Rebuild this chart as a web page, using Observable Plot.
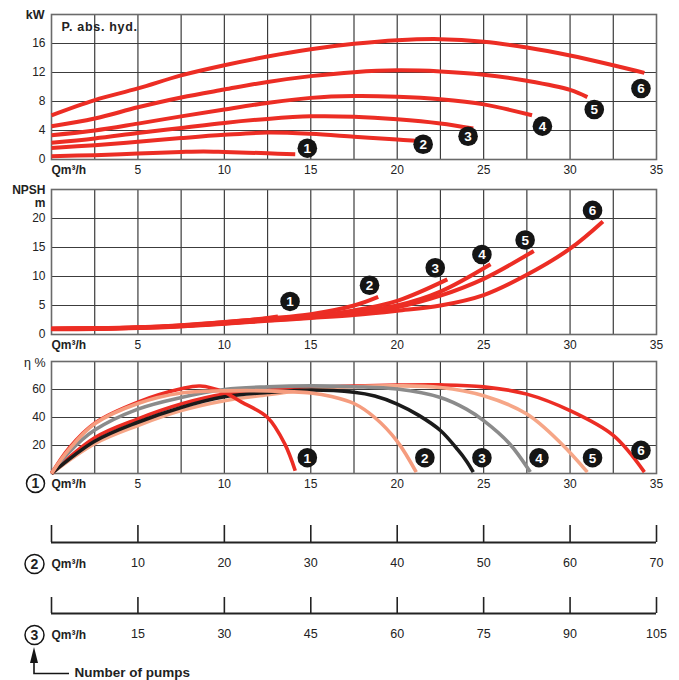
<!DOCTYPE html>
<html><head><meta charset="utf-8">
<script src="https://cdn.jsdelivr.net/npm/d3@7"></script>
<script src="https://cdn.jsdelivr.net/npm/@observablehq/plot@0.6"></script>
<style>
body{margin:0;background:#fff;}
#chart{position:relative;width:679px;height:680px;overflow:hidden;background:#fff;}
#chart svg{position:absolute;left:0;}
</style></head><body><div id="chart"></div>
<script>
// ---- axes / ticks ----
const Q_TICKS = [5, 10, 15, 20, 25, 30, 35];
const Q_GRID = [2.5, 5, 7.5, 10, 12.5, 15, 17.5, 20, 22.5, 25, 27.5, 30, 32.5];
const KW_TICKS = [0, 4, 8, 12, 16];
const KW_GRID = [4, 8, 12, 16];
const NPSH_TICKS = [0, 5, 10, 15, 20];
const NPSH_GRID = [5, 10, 15, 20];
const ETA_TICKS = [20, 40, 60];
const ETA_GRID = [20, 40, 60];
const Q2_TICKS = [0, 10, 20, 30, 40, 50, 60, 70];
const Q3_TICKS = [0, 15, 30, 45, 60, 75, 90, 105];
const PUMP_IDS = ["1", "2", "3", "4", "5", "6"];

// ---- P. abs. hyd. (kW) vs Q (m3/h) ----
const kw1 = [[0,0.46],[2.5,0.6],[5,0.83],[7.5,1.05],[8.8,1.12],[10,1.05],[12.5,0.85],[14.1,0.73]];
const kw2 = [[0,1.6],[2.5,1.97],[5,2.45],[7.5,2.95],[10,3.4],[12.5,3.72],[15,3.55],[17.5,3.15],[20,2.75],[21.1,2.57]];
const kw3 = [[0,2.3],[2.5,2.9],[5,3.65],[7.5,4.35],[10,5.05],[12.5,5.6],[15,5.95],[17.5,5.9],[20,5.55],[22.5,4.97],[24.4,4.27]];
const kw4 = [[0,3.35],[2.5,4.0],[5,4.95],[7.5,5.95],[10,6.9],[12.5,7.8],[15,8.5],[17.5,8.75],[20,8.65],[22.5,8.3],[25,7.6],[27.8,6.1]];
const kw5 = [[0,4.6],[2.5,5.65],[5,7.2],[7.5,8.55],[10,9.65],[12.5,10.7],[15,11.5],[17.5,12.05],[20,12.3],[22.5,12.15],[25,11.7],[27.5,10.85],[30,9.6],[31,8.6]];
const kw6 = [[0,6.1],[2.5,8.2],[5,9.8],[7.5,11.6],[10,13.0],[12.5,14.2],[15,15.2],[17.5,15.95],[20,16.45],[22.5,16.6],[25,16.25],[27.5,15.45],[30,14.35],[32.5,13.0],[34.3,11.95]];
const kwLabels = [[14.8,1.56],[21.5,2.1],[24.1,3.2],[28.4,4.6],[31.4,6.9],[34.1,9.8]];

// ---- NPSH (m) vs Q ----
const n1 = [[0,1.05],[2.5,1.1],[5,1.25],[7.5,1.6],[10,2.15],[12.5,2.85],[13.1,3.1]];
const n2 = [[0,1.0],[2.5,1.05],[5,1.2],[7.5,1.55],[10,2.1],[12.5,2.75],[15,3.5],[17.5,5.0],[18.9,6.5]];
const n3 = [[0,1.0],[2.5,1.05],[5,1.2],[7.5,1.5],[10,2.0],[12.5,2.6],[15,3.2],[17.5,4.15],[20,5.8],[22.9,9.5]];
const n4 = [[0,0.95],[2.5,1.0],[5,1.15],[7.5,1.45],[10,1.95],[12.5,2.5],[15,3.05],[17.5,3.85],[20,5.0],[22.5,7.4],[25.4,12.1]];
const n5 = [[0,0.95],[2.5,1.0],[5,1.15],[7.5,1.45],[10,1.9],[12.5,2.45],[15,2.95],[17.5,3.65],[20,4.7],[22.5,6.7],[25,9.6],[27.9,14.4]];
const n6 = [[0,0.9],[2.5,0.95],[5,1.1],[7.5,1.4],[10,1.85],[12.5,2.35],[15,2.85],[17.5,3.35],[20,4.1],[22.5,5.0],[25,6.8],[27.5,10.3],[30,14.8],[31.9,19.5]];
const npshLabels = [[13.8,5.7],[18.4,8.5],[22.2,11.5],[24.9,13.8],[27.4,16.3],[31.3,21.4]];

// ---- Efficiency (%) vs Q ----
const e1 = [[0,0],[1,18],[2.5,36],[5,51],[7.5,60.5],[8.6,62.5],[10,58],[11,51],[12.5,40],[13.5,21],[14.1,2]];
const e2 = [[0,0],[1,17],[2.5,35.5],[5,50],[7.5,57.5],[10,59],[12.5,59],[15,57.5],[16.2,55],[17.5,50],[18.7,40],[20,23],[21.1,1]];
const e3 = [[0,0],[2.5,23],[5,36.6],[7.5,47.2],[10,54.8],[12.5,57.9],[15,59.6],[17.5,58],[18.7,55.3],[20,49.6],[21.25,41.5],[22.5,30.7],[23.5,17],[24,9],[24.4,1]];
const e4 = [[0,0],[1,15],[2.5,31],[5,46],[7.5,54.3],[10,60],[12.5,61.9],[15,62.6],[17.5,62],[20,60.3],[22.5,54.3],[24,46],[25,37.8],[26.5,21.3],[27.7,1]];
const e5 = [[0,0],[2.5,21.3],[5,34.3],[7.5,44.9],[10,52],[12.5,56.2],[15,60],[17.5,62],[20,62.6],[22.5,61.4],[25,55.5],[27.5,42.5],[29.5,21.3],[31,1]];
const e6 = [[0,0],[2.5,25.5],[5,39],[7.5,49.6],[10,56.7],[12.5,59.6],[15,61.4],[17.5,62.5],[20,63.1],[22.5,63.3],[25,61.9],[27.5,56.7],[30,44.9],[32.5,27.2],[34.3,1]];
const etaLabels = [[14.8,11.3],[21.6,11.3],[24.9,11.3],[28.2,11.3],[31.3,11.3],[34.1,16.5]];

// ---- styling ----
const FONT = '"Liberation Sans", Arial, Helvetica, sans-serif';
const RED = "#ec2d24";
const SALMON = "#f59c7e";
const SALMON2 = "#f6a687";
const GRAY = "#8b8b8b";
const BLACK = "#1b1b1b";
const GRID = "#3c3c3c";

const px = d => d[0], py = d => d[1];

function curves(list, colors, width) {
  return list.map((pts, i) => Plot.line(pts, {x: px, y: py, stroke: colors[i], strokeWidth: width, curve: "catmull-rom", strokeLinecap: "butt"}));
}
function badges(pos) {
  return [
    Plot.dot(pos, {x: px, y: py, r: 9.8, fill: "#151515", stroke: "none"}),
    Plot.text(pos, {x: px, y: py, text: (d, i) => PUMP_IDS[i], fill: "white", fontWeight: "bold", fontSize: 13.5, dy: 0.5})
  ];
}
function corner(label, dy, opts = {}) {
  return Plot.text([label], {frameAnchor: "top-left", text: d => d, textAnchor: "end", lineAnchor: "middle", dx: -6, dy, fontWeight: "bold", fontSize: 12, ...opts});
}
function panel({yDomain, yTicks, yGrid, height = 180, mt = 14, mb = 21, extra}) {
  return Plot.plot({
    width: 679, height, marginLeft: 51, marginRight: 23, marginTop: mt, marginBottom: mb,
    x: {domain: [0, 35]}, y: {domain: yDomain},
    style: {fontFamily: FONT, fontSize: "12px", background: "transparent", overflow: "visible", color: "#222"},
    marks: [
      Plot.ruleX(Q_GRID, {stroke: GRID, strokeWidth: 1.2}),
      Plot.ruleY(yGrid, {stroke: GRID, strokeWidth: 1.2}),
      Plot.frame({stroke: "#6a6a6a", strokeWidth: 1.6}),
      Plot.axisX(Q_TICKS, {tickSize: 0, tickPadding: 6, fontSize: 12}),
      Plot.axisY(yTicks, {tickSize: 0, tickPadding: 6, fontSize: 12}),
      Plot.text([0], {x: d => d, frameAnchor: "bottom", text: () => "Qm³/h", textAnchor: "start", lineAnchor: "middle", dy: 11, fontWeight: "bold", fontSize: 12}),
      ...extra
    ]
  });
}

const chart = document.getElementById("chart");
function place(svg, top) { svg.style.top = top + "px"; chart.appendChild(svg); return svg; }

// Panel 1: power
const p1 = panel({
  yDomain: [0, 20], yTicks: KW_TICKS, yGrid: KW_GRID,
  extra: [
    ...curves([kw1, kw2, kw3, kw4, kw5, kw6], [RED, RED, RED, RED, RED, RED], 4),
    ...badges(kwLabels),
    corner("kW", 0, {dx: -7, fontSize: 12.5}),
    Plot.text(["P. abs. hyd."], {frameAnchor: "top-left", text: d => d, textAnchor: "start", lineAnchor: "middle", dx: 10, dy: 12, fontWeight: "bold", fontSize: 12.5})
  ]
});
place(p1, 0);
d3.select(p1).selectAll("text").filter(function() { return this.textContent === "P. abs. hyd."; }).style("letter-spacing", "0.7px");

// Panel 2: NPSH
const p2 = panel({
  yDomain: [0, 25], yTicks: NPSH_TICKS, yGrid: NPSH_GRID,
  extra: [
    ...curves([n6, n5, n4, n3, n2, n1], [RED, RED, RED, RED, RED, RED], 4),
    ...badges(npshLabels),
    corner("NPSH", 1),
    corner("m", 14)
  ]
});
place(p2, 175);

// Panel 3: efficiency
const p3 = panel({
  yDomain: [0, 80], yTicks: ETA_TICKS, yGrid: ETA_GRID, height: 147,
  extra: [
    ...curves([e6, e5, e4, e3, e1, e2], [RED, SALMON2, GRAY, BLACK, RED, SALMON], 3.6),
    ...badges(etaLabels),
    corner("η %", 1, {fontWeight: "normal", fontSize: 12.5}),
    Plot.dot([0], {x: d => d, y: () => 0, r: 9, stroke: "#151515", strokeWidth: 1.5, fill: "white", dx: -16, dy: 10}),
    Plot.text([0], {x: d => d, y: () => 0, text: () => "1", dx: -16, dy: 10.5, fontWeight: "bold", fontSize: 14})
  ]
});
place(p3, 347);

// Multiplier axes
function qRow(ticks, id, height, mb, extra = []) {
  return Plot.plot({
    width: 679, height, marginLeft: 51, marginRight: 23, marginTop: 10, marginBottom: mb,
    x: {domain: [0, ticks[ticks.length - 1]]}, y: {domain: [0, 1]},
    style: {fontFamily: FONT, fontSize: "12.5px", background: "transparent", overflow: "visible", color: "#222"},
    marks: [
      Plot.ruleX(ticks, {x: d => d, y1: () => 0, y2: () => 1, stroke: "#222", strokeWidth: 1.6}),
      Plot.ruleY([0], {stroke: "#222", strokeWidth: 1.8}),
      Plot.axisX(ticks.slice(1), {tickSize: 0, tickPadding: 16, fontSize: 12.5}),
      Plot.axisY([], {tickSize: 0}),
      Plot.text([0], {x: d => d, y: () => 0, text: () => "Qm³/h", textAnchor: "start", dy: 21.5, fontWeight: "bold", fontSize: 12}),
      Plot.dot([0], {x: d => d, y: () => 0, r: 9.5, stroke: "#151515", strokeWidth: 1.5, fill: "white", dx: -17, dy: 21.5}),
      Plot.text([0], {x: d => d, y: () => 0, text: () => id, dx: -17, dy: 22, fontWeight: "bold", fontSize: 14}),
      ...extra
    ]
  });
}
place(qRow(Q2_TICKS, "2", 60, 33), 515);

const arrowMark = (index, scales) => {
  const cx = scales.x(0) - 17, cy = scales.y(0);
  const g = d3.create("svg:g");
  g.append("path").attr("d", `M${cx},${cy + 48}V${cy + 60.5}H${cx + 35}`)
    .attr("fill", "none").attr("stroke", "#151515").attr("stroke-width", 1.6);
  g.append("path").attr("d", `M${cx},${cy + 34}L${cx + 4},${cy + 50}L${cx - 4},${cy + 50}Z`)
    .attr("fill", "#151515");
  return g.node();
};
place(qRow(Q3_TICKS, "3", 93, 67, [
  arrowMark,
  Plot.text([0], {x: d => d, y: () => 0, text: () => "Number of pumps", dx: 23, dy: 58.7, textAnchor: "start", fontWeight: "bold", fontSize: 13.5})
]), 587);
</script></body></html>
